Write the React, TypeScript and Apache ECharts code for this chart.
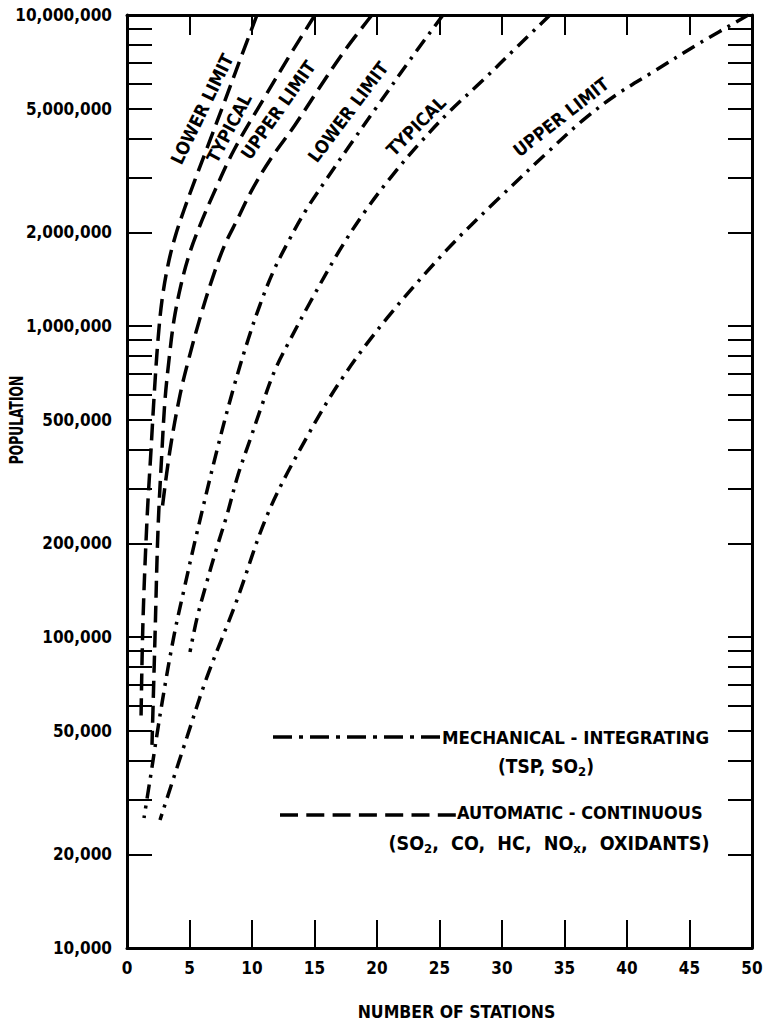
import React, { useEffect, useRef } from 'react';
import * as echarts from 'echarts';

const FONT = '"DejaVu Sans Condensed", "DejaVu Sans", sans-serif';

// Tick values on the log axis
const yTickValues = [
  10000, 20000, 30000, 40000, 50000, 60000, 70000, 80000, 90000,
  100000, 200000, 300000, 400000, 500000, 600000, 700000, 800000, 900000,
  1000000, 2000000, 3000000, 4000000, 5000000, 6000000, 7000000, 8000000, 9000000,
  10000000,
];
const yLabelValues = [10000, 20000, 50000, 100000, 200000, 500000, 1000000, 2000000, 5000000, 10000000];

// Automatic-continuous (dashed) [stations, population]
const autoLower: [number, number][] = [
  [10.4, 10000000], [9.04, 7170000], [7.76, 5210000], [6.56, 3880000], [5.44, 2950000],
  [4.56, 2360000], [3.84, 1930000], [3.28, 1570000], [2.8, 1210000], [2.48, 902000],
  [2.2, 623000], [1.92, 399000], [1.6, 238000], [1.28, 113000], [1.12, 54000],
];
const autoTypical: [number, number][] = [
  [15.04, 10000000], [13.28, 7710000], [10.88, 5330000], [8.56, 3680000], [6.88, 2640000],
  [5.76, 2070000], [4.96, 1690000], [4.32, 1355000], [3.76, 1045000], [3.36, 778000],
  [3.04, 578000], [2.8, 399000], [2.48, 221000], [2.24, 100000], [2.0, 45000],
];
const autoUpper: [number, number][] = [
  [19.6, 10000000], [17.44, 7710000], [15.28, 5740000], [13.44, 4430000], [11.44, 3420000],
  [10.0, 2740000], [8.8, 2190000], [7.76, 1800000], [6.8, 1410000], [5.84, 1060000],
  [4.96, 789000], [4.24, 600000], [3.44, 399000], [2.8, 256000],
];

// Mechanical-integrating (dash-dot)
const mechLower: [number, number][] = [
  [25.28, 10000000], [22.64, 7170000], [19.92, 5020000], [17.84, 3820000], [15.92, 2950000],
  [14.24, 2330000], [12.88, 1860000], [11.68, 1490000], [10.64, 1170000], [9.68, 902000],
  [8.48, 623000], [7.2, 399000], [5.52, 210000], [4.56, 142000], [3.76, 101000],
  [2.8, 61300], [1.84, 34700], [1.36, 26200],
];
const mechTypical: [number, number][] = [
  [33.84, 10000000], [31.28, 7950000], [28.4, 6130000], [25.84, 4910000], [23.44, 3880000],
  [21.2, 3040000], [19.12, 2360000], [17.04, 1760000], [14.64, 1190000], [13.04, 902000],
  [11.84, 722000], [10.8, 557000], [9.84, 430000], [8.88, 332000], [8.0, 247000],
  [7.12, 190000], [6.32, 147000], [5.6, 115000], [5.04, 89500],
];
const mechUpper: [number, number][] = [
  [49.7, 10000000], [45.84, 8130000], [42.08, 6560000], [39.12, 5530000], [36.48, 4590000],
  [33.84, 3680000], [29.6, 2540000], [25.6, 1760000], [20.8, 1060000], [17.28, 685000],
  [14.4, 440000], [11.28, 250000], [8.72, 129000], [6.4, 74400], [4.8, 47700], [2.64, 25800],
];

const DASHED = [17, 8];
const DASH_DOT = [14, 7, 3, 7];

const curveLabels = [
  { text: 'LOWER LIMIT', x: 202, y: 109, angle: 64 },
  { text: 'TYPICAL', x: 229, y: 128, angle: 62 },
  { text: 'UPPER LIMIT', x: 278, y: 110, angle: 55 },
  { text: 'LOWER LIMIT', x: 348, y: 112, angle: 53 },
  { text: 'TYPICAL', x: 416, y: 126, angle: 45 },
  { text: 'UPPER LIMIT', x: 561, y: 117, angle: 38 },
];

function fmt(v: number) {
  return Math.round(v).toLocaleString('en-US');
}

export default function App() {
  const ref = useRef<HTMLDivElement>(null);
  useEffect(() => {
    if (!ref.current) return;
    const chart = echarts.init(ref.current, undefined, { renderer: 'svg' });
    const axisLine = { show: true, onZero: false, lineStyle: { color: '#000', width: 3 } };
    const tickStyle = { color: '#000', width: 2 };
    const labelFont = { fontFamily: FONT, fontWeight: 'bold' as const, color: '#000', fontSize: 17 };

    const mkLine = (name: string, data: [number, number][], type: number[]) => ({
      name,
      type: 'line',
      data,
      showSymbol: false,
      symbol: 'none',
      smooth: 0.35,
      xAxisIndex: 0,
      yAxisIndex: 0,
      lineStyle: { color: '#000', width: 3.5, type, cap: 'butt' },
      silent: true,
    });

    const graphics: any[] = curveLabels.map((l) => ({
      type: 'text',
      x: l.x,
      y: l.y,
      rotation: (l.angle * Math.PI) / 180,
      style: {
        text: l.text,
        fill: '#000',
        font: `bold 18px ${FONT}`,
        align: 'center',
        verticalAlign: 'middle',
      },
    }));

    const sub = { font: `bold 13px ${FONT}`, fill: '#000', padding: [10, 0, 0, 0] };

    graphics.push(
      {
        type: 'text',
        x: 17,
        y: 420,
        rotation: Math.PI / 2,
        scaleX: 0.72,
        style: { text: 'POPULATION', fill: '#000', font: `bold 19px ${FONT}`, align: 'center', verticalAlign: 'middle' },
      },
      {
        type: 'line',
        shape: { x1: 273, y1: 737, x2: 440, y2: 737 },
        style: { stroke: '#000', lineWidth: 3.5, lineDash: [19, 7, 4, 7] },
      },
      {
        type: 'text',
        x: 442,
        y: 737,
        style: { text: 'MECHANICAL - INTEGRATING', fill: '#000', font: `bold 18.5px ${FONT}`, align: 'left', verticalAlign: 'middle' },
      },
      {
        type: 'text',
        x: 546,
        y: 766,
        style: {
          text: '(TSP, SO{s|2})',
          fill: '#000',
          font: `bold 19px ${FONT}`,
          align: 'center',
          verticalAlign: 'middle',
          rich: { s: sub },
        },
      },
      {
        type: 'line',
        shape: { x1: 280, y1: 815, x2: 456, y2: 815 },
        style: { stroke: '#000', lineWidth: 3.5, lineDash: [18, 8.3] },
      },
      {
        type: 'text',
        x: 457,
        y: 812,
        style: { text: 'AUTOMATIC - CONTINUOUS', fill: '#000', font: `bold 18px ${FONT}`, align: 'left', verticalAlign: 'middle' },
      },
      {
        type: 'text',
        x: 549,
        y: 843,
        style: {
          text: '(SO{s|2},  CO,  HC,  NO{s|x},  OXIDANTS)',
          fill: '#000',
          font: `bold 19.5px ${FONT}`,
          align: 'center',
          verticalAlign: 'middle',
          rich: { s: sub },
        },
      }
    );

    chart.setOption({
      animation: false,
      backgroundColor: '#fff',
      grid: { left: 127, right: 13, top: 15, bottom: 87, containLabel: false, outerBoundsMode: 'none' },
      xAxis: [
        {
          type: 'value',
          min: 0,
          max: 50,
          interval: 5,
          position: 'bottom',
          axisLine,
          axisTick: { show: true, inside: true, length: 28, lineStyle: tickStyle },
          axisLabel: { ...labelFont, margin: 11 },
          splitLine: { show: false },
          name: 'NUMBER OF STATIONS',
          nameLocation: 'middle',
          nameGap: 55,
          nameTextStyle: { ...labelFont, fontSize: 17.5, padding: [0, 0, 0, 34] },
        },
        {
          type: 'value',
          min: 0,
          max: 50,
          interval: 5,
          position: 'top',
          axisLine,
          axisTick: { show: true, inside: true, length: 20, lineStyle: tickStyle },
          axisLabel: { show: false },
          splitLine: { show: false },
        },
      ],
      yAxis: [
        {
          type: 'log',
          logBase: 10,
          min: 10000,
          max: 10000000,
          position: 'left',
          axisLine,
          axisTick: { show: true, inside: true, length: 25, lineStyle: tickStyle, customValues: yTickValues },
          axisLabel: { ...labelFont, margin: 15, customValues: yLabelValues, formatter: (v: number) => fmt(v) },
          splitLine: { show: false },
          minorTick: { show: false },
        },
        {
          type: 'log',
          logBase: 10,
          min: 10000,
          max: 10000000,
          position: 'right',
          axisLine,
          axisTick: { show: true, inside: true, length: 24, lineStyle: tickStyle, customValues: yTickValues },
          axisLabel: { show: false },
          splitLine: { show: false },
        },
      ],
      series: [
        mkLine('Automatic lower', autoLower, DASHED),
        mkLine('Automatic typical', autoTypical, DASHED),
        mkLine('Automatic upper', autoUpper, DASHED),
        mkLine('Mechanical lower', mechLower, DASH_DOT),
        mkLine('Mechanical typical', mechTypical, DASH_DOT),
        mkLine('Mechanical upper', mechUpper, DASH_DOT),
      ],
      graphic: graphics,
    });
    return () => chart.dispose();
  }, []);
  return (
    <div
      ref={ref}
      style={{ position: 'absolute', left: 0, top: 0, width: 765, height: 1035, background: '#fff' }}
    />
  );
}
